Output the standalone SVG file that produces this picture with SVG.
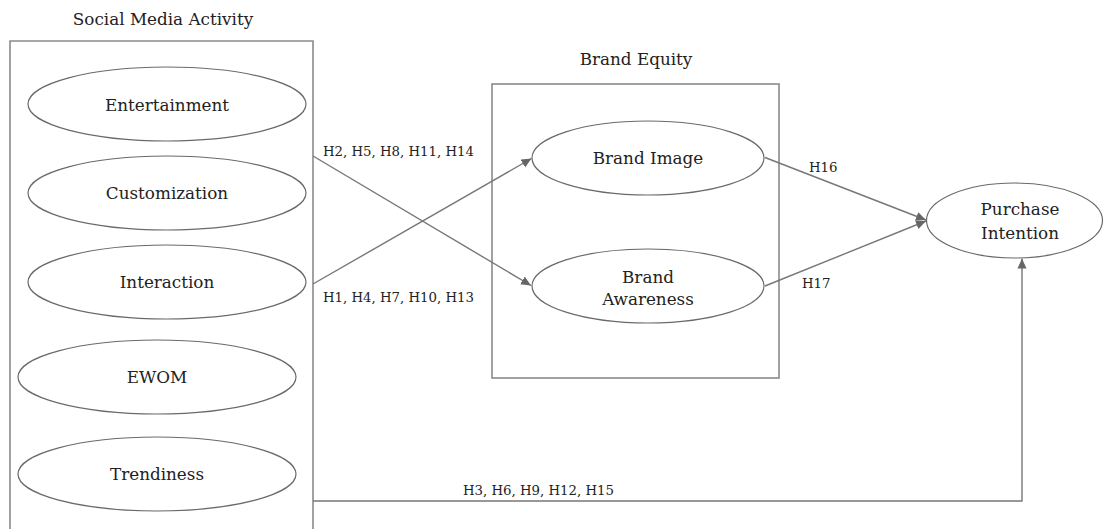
<svg xmlns="http://www.w3.org/2000/svg" width="1108" height="529" viewBox="0 0 1108 529">
<style>
text{font-family:"DejaVu Serif","Liberation Serif",serif;fill:#222;}
.lbl{font-size:16.8px;text-anchor:middle;}
.hyp{font-size:13.3px;}
.box{fill:none;stroke:#8a8a8a;stroke-width:1.6;}
.node ellipse{fill:#fff;stroke:#6a6a6a;stroke-width:1.2;}
.conn{fill:none;stroke:#777;stroke-width:1.4;marker-end:url(#arr);}
</style>
<defs>
<marker id="arr" viewBox="0 0 10 10" refX="10" refY="5" markerWidth="10" markerHeight="10" markerUnits="userSpaceOnUse" orient="auto">
<path d="M0,0.5 L10,5 L0,9.5 Z" fill="#666"/>
</marker>
</defs>
<rect width="1108" height="529" fill="#fff"/>

<g id="social-media-activity">
<text class="lbl" x="163" y="25">Social Media Activity</text>
<path class="box" d="M10,531 V41 H313 V531"/>
</g>

<g id="brand-equity">
<text class="lbl" x="636" y="65">Brand Equity</text>
<rect class="box" x="492" y="84" width="287" height="294"/>
</g>

<g id="entertainment" class="node">
<ellipse cx="167" cy="104" rx="139" ry="37"/>
<text class="lbl" x="167" y="111">Entertainment</text>
</g>
<g id="customization" class="node">
<ellipse cx="167" cy="193" rx="139" ry="37"/>
<text class="lbl" x="167" y="199">Customization</text>
</g>
<g id="interaction" class="node">
<ellipse cx="167" cy="282" rx="139" ry="37"/>
<text class="lbl" x="167" y="288">Interaction</text>
</g>
<g id="ewom" class="node">
<ellipse cx="157" cy="377" rx="139" ry="37"/>
<text class="lbl" x="157" y="383">EWOM</text>
</g>
<g id="trendiness" class="node">
<ellipse cx="157" cy="474" rx="139" ry="37"/>
<text class="lbl" x="157" y="480">Trendiness</text>
</g>
<g id="brand-image" class="node">
<ellipse cx="648" cy="158" rx="116" ry="37"/>
<text class="lbl" x="648" y="164">Brand Image</text>
</g>
<g id="brand-awareness" class="node">
<ellipse cx="648" cy="286" rx="116" ry="37"/>
<text class="lbl" x="648" y="283">Brand</text>
<text class="lbl" x="648" y="305">Awareness</text>
</g>
<g id="purchase-intention" class="node">
<ellipse cx="1014.5" cy="220.5" rx="88" ry="37.5"/>
<text class="lbl" x="1020" y="215">Purchase</text>
<text class="lbl" x="1020" y="239">Intention</text>
</g>

<g id="connectors">
<line class="conn" x1="313" y1="156" x2="531" y2="285.5"/>
<line class="conn" x1="313" y1="284" x2="531.5" y2="158.5"/>
<line class="conn" x1="765" y1="157.5" x2="926" y2="220"/>
<line class="conn" x1="765" y1="286" x2="926" y2="221"/>
<path class="conn" d="M313,501 H1022 V258.5"/>
<text class="hyp" x="323" y="156">H2, H5, H8, H11, H14</text>
<text class="hyp" x="323" y="302">H1, H4, H7, H10, H13</text>
<text class="hyp" x="809" y="172">H16</text>
<text class="hyp" x="802" y="288">H17</text>
<text class="hyp" x="463" y="495">H3, H6, H9, H12, H15</text>
</g>
</svg>
